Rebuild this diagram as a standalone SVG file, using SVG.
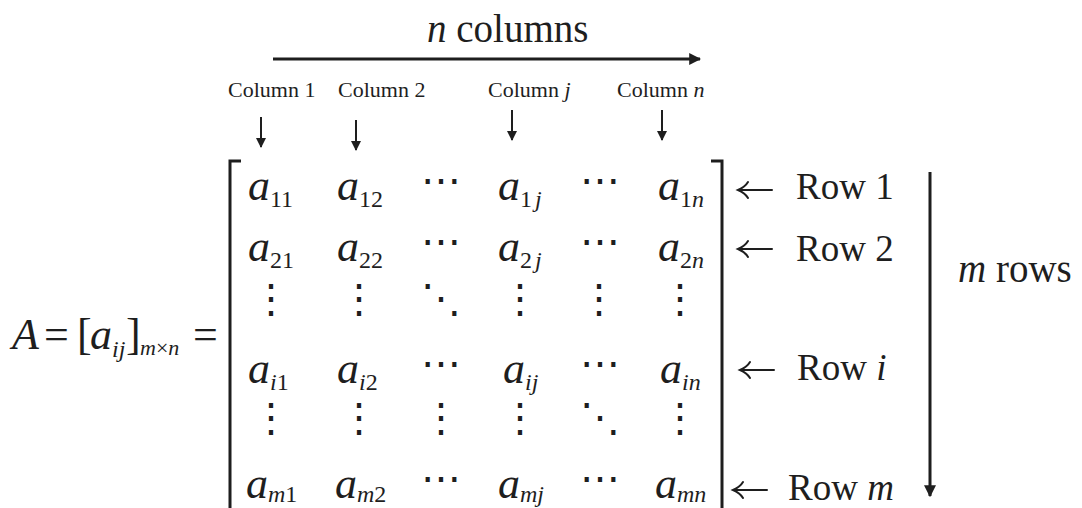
<svg xmlns="http://www.w3.org/2000/svg" width="1082" height="508" viewBox="0 0 1082 508">
<defs>
<style>
text{font-family:"Liberation Serif","Times New Roman",serif;fill:#1e1e1e}
.m{font-style:italic;font-size:44px}
.sb{font-style:normal;font-size:24px}
.sbi{font-style:italic;font-size:24px}
.it{font-style:italic}
.rm{font-style:normal}
.dots{font-family:"DejaVu Serif",serif;font-size:40px;font-style:normal;text-anchor:middle}
.col{font-size:22px}
.row{font-size:37px}
.big{font-size:39px}
.ln{stroke:#1e1e1e;stroke-width:3;fill:none}
.sm{stroke:#1e1e1e;stroke-width:2;fill:none}
.la{stroke:#1e1e1e;stroke-width:2;fill:none;stroke-linecap:round}
</style>
<marker id="ah" viewBox="0 0 10 10" refX="9" refY="5" markerWidth="4" markerHeight="4" orient="auto" markerUnits="strokeWidth">
<path d="M0,0 L10,5 L0,10 Z" fill="#1e1e1e"/>
</marker>
<marker id="ahs" viewBox="0 0 10 10" refX="9" refY="5" markerWidth="5" markerHeight="5" orient="auto" markerUnits="strokeWidth">
<path d="M0,0 L10,5 L0,10 Z" fill="#1e1e1e"/>
</marker>
</defs>
<rect width="1082" height="508" fill="#ffffff"/>

<g id="connectors">
<line class="ln" x1="273" y1="59" x2="700" y2="59" marker-end="url(#ah)"/>
<line class="sm" x1="261" y1="117" x2="261" y2="147" marker-end="url(#ahs)"/>
<line class="sm" x1="356" y1="120" x2="356" y2="150" marker-end="url(#ahs)"/>
<line class="sm" x1="512" y1="110" x2="512" y2="140" marker-end="url(#ahs)"/>
<line class="sm" x1="662" y1="110" x2="662" y2="140" marker-end="url(#ahs)"/>
<line class="ln" x1="930" y1="172" x2="930" y2="496" marker-end="url(#ah)"/>
<path class="la" d="M772,190 H739 M748,182 Q745,187 738,190 Q745,193 748,198"/>
<path class="la" d="M772,249 H739 M748,241 Q745,246 738,249 Q745,252 748,257"/>
<path class="la" d="M774,370 H741 M750,362 Q747,367 740,370 Q747,373 750,378"/>
<path class="la" d="M767,490 H734 M743,482 Q740,487 733,490 Q740,493 743,498"/>
</g>

<g id="title">
<text class="big" x="427" y="42"><tspan class="it">n</tspan> columns</text>
</g>

<g id="column-labels">
<text class="col" x="228" y="97">Column 1</text>
<text class="col" x="338" y="97">Column 2</text>
<text class="col" x="488" y="97">Column <tspan class="it">j</tspan></text>
<text class="col" x="617" y="97">Column <tspan class="it">n</tspan></text>
</g>

<g id="lhs">
<text class="m" y="349"><tspan x="12">A</tspan><tspan x="44" class="rm">=</tspan><tspan x="77" class="rm">[</tspan><tspan x="90">a</tspan><tspan class="sbi" dy="8">ij</tspan><tspan x="126" dy="-8" class="rm">]</tspan><tspan x="140" dy="6" class="sbi" style="font-size:22px">m</tspan><tspan class="sb" style="font-size:22px">×</tspan><tspan class="sbi" style="font-size:22px">n</tspan><tspan x="193" dy="-6" class="rm">=</tspan></text>
</g>

<g id="matrix">
<path class="ln" d="M241,161 H230 V508"/>
<path class="ln" d="M711,161 H722 V508"/>
<!-- row 1 -->
<text class="m" x="248" y="200">a<tspan class="sb" dy="7">11</tspan></text>
<text class="m" x="337" y="200">a<tspan class="sb" dy="7">12</tspan></text>
<text class="dots" x="441" y="194">⋯</text>
<text class="m" x="498" y="200">a<tspan class="sb" dy="7">1</tspan><tspan class="sbi" dx="3">j</tspan></text>
<text class="dots" x="600" y="194">⋯</text>
<text class="m" x="658" y="200">a<tspan class="sb" dy="7">1</tspan><tspan class="sbi">n</tspan></text>
<!-- row 2 -->
<text class="m" x="248" y="261">a<tspan class="sb" dy="7">21</tspan></text>
<text class="m" x="337" y="261">a<tspan class="sb" dy="7">22</tspan></text>
<text class="dots" x="441" y="255">⋯</text>
<text class="m" x="498" y="261">a<tspan class="sb" dy="7">2</tspan><tspan class="sbi" dx="3">j</tspan></text>
<text class="dots" x="600" y="255">⋯</text>
<text class="m" x="658" y="261">a<tspan class="sb" dy="7">2</tspan><tspan class="sbi">n</tspan></text>
<!-- dots row 1 -->
<text class="dots" x="271" y="312">⋮</text>
<text class="dots" x="359" y="312">⋮</text>
<text class="dots" x="441" y="312">⋱</text>
<text class="dots" x="520" y="312">⋮</text>
<text class="dots" x="599" y="312">⋮</text>
<text class="dots" x="680" y="312">⋮</text>
<!-- row i -->
<text class="m" x="248" y="383">a<tspan class="sbi" dy="7">i</tspan><tspan class="sb">1</tspan></text>
<text class="m" x="337" y="383">a<tspan class="sbi" dy="7">i</tspan><tspan class="sb">2</tspan></text>
<text class="dots" x="441" y="377">⋯</text>
<text class="m" x="503" y="383">a<tspan class="sbi" dy="7">ij</tspan></text>
<text class="dots" x="600" y="377">⋯</text>
<text class="m" x="660" y="383">a<tspan class="sbi" dy="7">in</tspan></text>
<!-- dots row 2 -->
<text class="dots" x="271" y="431">⋮</text>
<text class="dots" x="359" y="431">⋮</text>
<text class="dots" x="441" y="431">⋮</text>
<text class="dots" x="520" y="431">⋮</text>
<text class="dots" x="600" y="431">⋱</text>
<text class="dots" x="680" y="431">⋮</text>
<!-- row m -->
<text class="m" x="246" y="498">a<tspan class="sbi" dy="4">m</tspan><tspan class="sb">1</tspan></text>
<text class="m" x="335" y="498">a<tspan class="sbi" dy="4">m</tspan><tspan class="sb">2</tspan></text>
<text class="dots" x="441" y="492">⋯</text>
<text class="m" x="498" y="498">a<tspan class="sbi" dy="4">mj</tspan></text>
<text class="dots" x="600" y="492">⋯</text>
<text class="m" x="655" y="498">a<tspan class="sbi" dy="4">mn</tspan></text>
</g>

<g id="row-labels">
<text class="row" x="796" y="199">Row 1</text>
<text class="row" x="796" y="261">Row 2</text>
<text class="row" x="797" y="380">Row <tspan class="it">i</tspan></text>
<text class="row" x="788" y="500">Row <tspan class="it">m</tspan></text>
</g>

<g id="m-rows">
<text class="big" x="958" y="282"><tspan class="it">m</tspan> rows</text>
</g>
</svg>
